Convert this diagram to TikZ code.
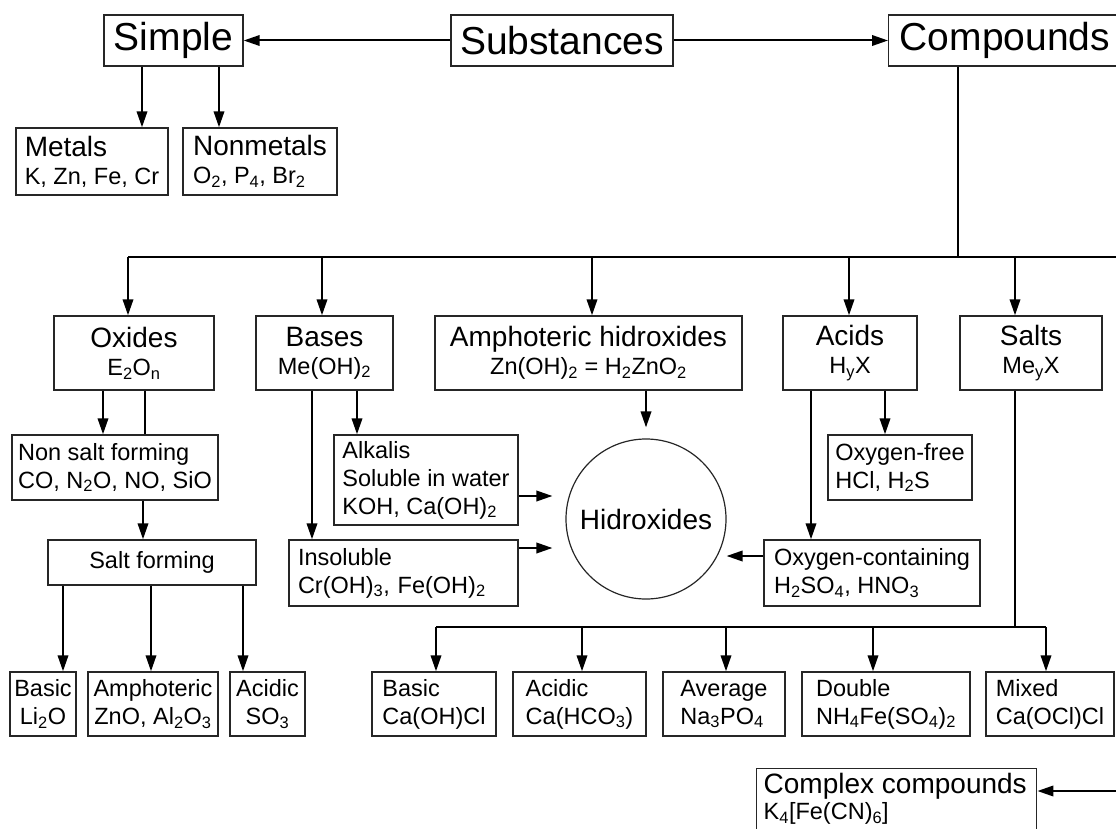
\documentclass[tikz,border=0pt]{standalone}
\usepackage{fontspec}
\setmainfont{Liberation Sans}
\usetikzlibrary{arrows.meta}
\newcommand{\ssub}[1]{\textsubscript{#1}}
\newcommand{\ttl}{\fontsize{28}{33}\selectfont}
\begin{document}
\begin{tikzpicture}[
    x=1pt, y=-1pt,
    box/.style={draw=black!85, line width=1.4pt, inner sep=2pt, font=\fontsize{23.5}{28}\selectfont},
    head/.style={box, font=\fontsize{39}{46}\selectfont, minimum height=51pt},
    line/.style={line width=2pt},
    arr/.style={line, -{Triangle[length=16pt,width=10.5pt]}}
]
    \useasboundingbox (0,0) rectangle (1116,829);
    \clip (0,0) rectangle (1116,829);

    % Top level
    \node[head, minimum width=139pt] (simple) at (173.5,40.5) {Simple};
    \node[head, minimum width=222pt] (subst) at (562,40.5) {Substances};
    \node[head, anchor=west, inner xsep=11pt, text width=225pt, align=left] (comp) at (888,40.5) {Compounds};
    \draw[arr] (subst) -- (simple);
    \draw[arr] (subst) -- (comp);

    % Simple substances
    \node[box, minimum width=152pt, minimum height=67pt, align=left] (metals) at (92,161.5) {{\ttl Metals}\\K, Zn, Fe, Cr};
    \node[box, minimum width=154pt, minimum height=67pt, align=left] (nonmetals) at (260,161.5) {{\ttl Nonmetals}\\O\ssub{2}, P\ssub{4}, Br\ssub{2}};
    \draw[arr] (simple.south -| 142,0) -- (metals.north -| 142,0);
    \draw[arr] (simple.south -| 219,0) -- (nonmetals.north -| 219,0);

    % Classes of compounds
    \node[box, minimum width=160pt, minimum height=74pt, align=center] (oxides) at (134,353) {{\ttl Oxides}\\E\ssub{2}O\ssub{n}};
    \node[box, minimum width=137pt, minimum height=74pt, align=center] (bases) at (324.5,353) {{\ttl Bases}\\Me(OH)\ssub{2}};
    \node[box, minimum width=307pt, minimum height=74pt, align=center] (amph) at (588.5,353) {{\ttl Amphoteric hidroxides}\\Zn(OH)\ssub{2} = H\ssub{2}ZnO\ssub{2}};
    \node[box, minimum width=134pt, minimum height=74pt, align=center] (acids) at (850,353) {{\ttl Acids}\\H\ssub{y}X};
    \node[box, minimum width=142pt, minimum height=74pt, align=center] (salts) at (1031,353) {{\ttl Salts}\\Me\ssub{y}X};

    \coordinate (fork) at (958,257);
    \draw[line] (comp.south -| fork) -- (fork);
    \draw[line] (fork -| 128,0) -- (fork -| 1130,0);
    \foreach \n/\x in {oxides/128, bases/322, amph/592, acids/849, salts/1015}
        \draw[arr] (fork -| \x,0) -- (\n.north -| \x,0);

    % Oxides
    \node[box, minimum width=206pt, minimum height=65pt, align=left] (nonsalt) at (115,467.5) {Non salt forming\\CO, N\ssub{2}O, NO, SiO};
    \node[box, minimum width=208pt, minimum height=45pt, align=center] (saltform) at (152,562.5) {Salt forming};
    \node[box, minimum width=66pt, minimum height=64pt, inner xsep=1pt, align=center] (basicO) at (43,704) {Basic\\Li\ssub{2}O};
    \node[box, minimum width=130pt, minimum height=64pt, inner xsep=1pt, align=center] (amphO) at (153,704) {Amphoteric\\ZnO, Al\ssub{2}O\ssub{3}};
    \node[box, minimum width=75pt, minimum height=64pt, align=center] (acidicO) at (267.5,704) {Acidic\\SO\ssub{3}};
    \draw[arr] (oxides.south -| 103,0) -- (nonsalt.north -| 103,0);
    \draw[line] (oxides.south -| 145,0) -- (nonsalt.north -| 145,0);
    \draw[arr] (nonsalt.south -| 143,0) -- (saltform.north -| 143,0);
    \foreach \n/\x in {basicO/63, amphO/151, acidicO/243}
        \draw[arr] (saltform.south -| \x,0) -- (\n.north -| \x,0);

    % Bases, acids and hidroxides
    \node[circle, draw=black!85, line width=1.2pt, minimum size=160pt, inner sep=0pt, font=\ttl] (hidr) at (646,519) {Hidroxides};
    \node[box, minimum width=184pt, minimum height=90pt, align=left] (alkalis) at (426,480) {Alkalis\\Soluble in water\\KOH, Ca(OH)\ssub{2}};
    \node[box, inner xsep=9pt, text width=211pt, minimum height=66pt, align=left] (insol) at (403.5,573) {Insoluble\\Cr(OH)\ssub{3}, Fe(OH)\ssub{2}};
    \node[box, minimum width=144pt, minimum height=65pt, align=left] (oxyfree) at (900,467.5) {Oxygen-free\\HCl, H\ssub{2}S};
    \node[box, minimum width=216pt, minimum height=66pt, align=left] (oxycont) at (872,573) {Oxygen-containing\\H\ssub{2}SO\ssub{4}, HNO\ssub{3}};
    \draw[arr] (bases.south -| 357,0) -- (alkalis.north -| 357,0);
    \draw[arr] (bases.south -| 312,0) -- (insol.north -| 312,0);
    \draw[arr, shorten >=11pt] (amph.south -| hidr.north) -- (hidr.north);
    \draw[arr, shorten >=13pt] (alkalis.east |- 0,496) -- (hidr.west |- 0,496);
    \draw[arr, shorten >=13pt] (insol.east |- 0,548) -- (hidr.west |- 0,548);
    \draw[arr] (acids.south -| 811,0) -- (oxycont.north -| 811,0);
    \draw[arr] (acids.south -| 885,0) -- (oxyfree.north -| 885,0);
    \draw[arr] (oxycont.west |- 0,556) -- (hidr.east |- 0,556);

    % Salts
    \node[box, minimum width=124pt, minimum height=64pt, align=left] (basicS) at (434,704) {Basic\\Ca(OH)Cl};
    \node[box, minimum width=133pt, minimum height=64pt, align=left] (acidicS) at (579.5,704) {Acidic\\Ca(HCO\ssub{3})};
    \node[box, minimum width=122pt, minimum height=64pt, align=left] (average) at (724,704) {Average\\Na\ssub{3}PO\ssub{4}};
    \node[box, minimum width=168pt, minimum height=64pt, align=left] (double) at (886,704) {Double\\NH\ssub{4}Fe(SO\ssub{4})\ssub{2}};
    \node[box, minimum width=128pt, minimum height=64pt, align=left] (mixed) at (1050,704) {Mixed\\Ca(OCl)Cl};
    \coordinate (sfork) at (1015,627);
    \draw[line] (salts.south -| sfork) -- (sfork);
    \draw[line] (sfork -| 436,0) -- (sfork -| 1046,0);
    \foreach \n/\x in {basicS/436, acidicS/582, average/726, double/873, mixed/1046}
        \draw[arr] (sfork -| \x,0) -- (\n.north -| \x,0);

    % Complex compounds
    \node[box, anchor=north west, inner xsep=7pt, inner ysep=5pt, text width=266pt, align=left] (complex) at (756,768) {{\ttl Complex compounds}\\[-2pt]K\ssub{4}[Fe(CN)\ssub{6}]\\[10pt]};
    \coordinate (cx-in) at (1130,791);
    \draw[arr] (cx-in) -- (complex.east |- cx-in);
\end{tikzpicture}
\end{document}
